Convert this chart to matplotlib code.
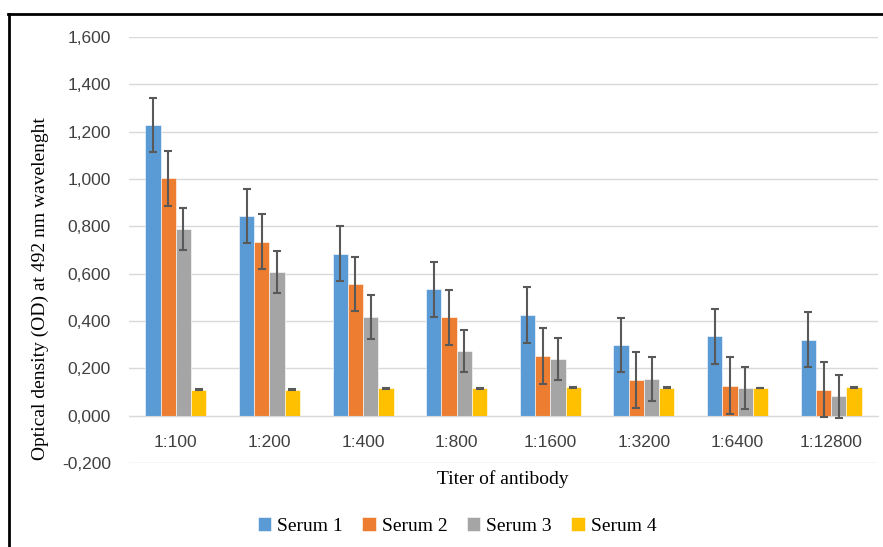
import numpy as np
import matplotlib
matplotlib.use("Agg")
import matplotlib.pyplot as plt
from matplotlib.lines import Line2D
from matplotlib.ticker import FuncFormatter

# data
titers = ["1:100", "1:200", "1:400", "1:800", "1:1600", "1:3200", "1:6400", "1:12800"]
series = ["Serum 1", "Serum 2", "Serum 3", "Serum 4"]

serum1 = [1.229, 0.843, 0.685, 0.534, 0.425, 0.298, 0.335, 0.321]
serum2 = [1.004, 0.735, 0.557, 0.415, 0.253, 0.149, 0.127, 0.110]
serum3 = [0.789, 0.607, 0.418, 0.274, 0.241, 0.156, 0.117, 0.081]
serum4 = [0.110, 0.110, 0.115, 0.115, 0.120, 0.118, 0.117, 0.120]

err1 = [0.115, 0.115, 0.115, 0.115, 0.117, 0.115, 0.115, 0.117]
err2 = [0.116, 0.117, 0.115, 0.117, 0.119, 0.118, 0.119, 0.115]
err3 = [0.089, 0.089, 0.092, 0.089, 0.089, 0.093, 0.087, 0.089]
err4 = [0.002, 0.002, 0.002, 0.002, 0.002, 0.002, 0.002, 0.002]

colors = ["#5B9BD5", "#ED7D31", "#A5A5A5", "#FFC000"]

values = [serum1, serum2, serum3, serum4]
errors = [err1, err2, err3, err4]

fig = plt.figure(figsize=(8.83, 5.47), dpi=100)
ax = fig.add_axes([129 / 883, 1 - 463 / 547, (878 - 129) / 883, (463 - 37) / 547])

x = np.arange(len(titers))
w = 0.163
for i in range(4):
    pos = x + (i - 1.5) * w
    ax.bar(pos, values[i], w, color=colors[i], edgecolor="white", linewidth=0.4,
           label=series[i], zorder=2)
    ax.errorbar(pos, values[i], yerr=errors[i], fmt="none", ecolor="#595959",
                elinewidth=1.5, capsize=3.2, capthick=1.5, zorder=3)

ax.set_xlim(-0.5, 7.5)
ax.set_ylim(-0.2, 1.6)
ax.set_yticks(np.arange(-0.2, 1.61, 0.2))
ax.yaxis.set_major_formatter(FuncFormatter(lambda v, p: f"{v:.3f}".replace(".", ",")))
ax.grid(axis="y", color="#D9D9D9", linewidth=1.0, zorder=0)
ax.set_axisbelow(True)
for s in ["top", "right", "left"]:
    ax.spines[s].set_visible(False)
ax.spines["bottom"].set_position(("data", 0))
ax.spines["bottom"].set_color("#D9D9D9")
ax.tick_params(axis="y", length=0, pad=13, labelsize=12.5, labelcolor="#404040")
ax.tick_params(axis="x", length=0, pad=14, labelsize=12.5, labelcolor="#404040")
ax.set_xticks(x)
ax.set_xticklabels(titers)
for lab in ax.get_xticklabels() + ax.get_yticklabels():
    lab.set_family("Liberation Sans")

fig.text(40 / 883, 1 - 289 / 547, "Optical density (OD) at 492 nm wavelenght",
         rotation=90, ha="center", va="center", family="Liberation Serif", fontsize=14)
fig.text(503 / 883, 1 - 479 / 547, "Titer of antibody", ha="center", va="center",
         family="Liberation Serif", fontsize=14)

handles, labels = ax.get_legend_handles_labels()
fig.legend(handles, labels, loc="center", bbox_to_anchor=(457 / 883, 1 - 526 / 547),
           ncol=4, frameon=False, prop={"family": "Liberation Serif", "size": 14},
           handlelength=0.7, handleheight=0.7, handletextpad=0.3, columnspacing=1.0)

# outer frame (top and left only)
fig.add_artist(Line2D([8 / 883, 1], [1 - 14 / 547, 1 - 14 / 547], color="black",
                      linewidth=2.0, transform=fig.transFigure))
fig.add_artist(Line2D([9 / 883, 9 / 883], [1 - 14 / 547, 0], color="black",
                      linewidth=2.0, transform=fig.transFigure))

fig.savefig("out.png", dpi=100)
